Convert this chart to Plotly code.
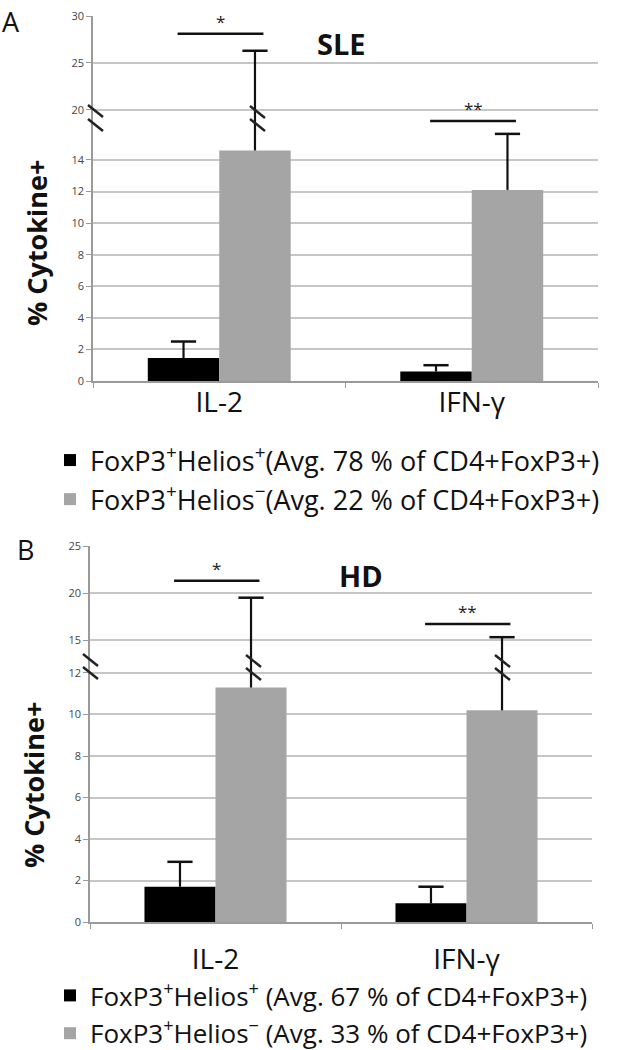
import plotly.graph_objects as go

# ---------------- data ----------------
categories = ["IL-2", "IFN-γ"]

# Panel A: SLE
sle_pos_mean = [1.45, 0.6]     # FoxP3+Helios+
sle_pos_sd = [1.05, 0.4]
sle_neg_mean = [14.6, 12.1]    # FoxP3+Helios-
sle_neg_sd = [11.7, 3.55]

# Panel B: HD
hd_pos_mean = [1.7, 0.9]
hd_pos_sd = [1.2, 0.8]
hd_neg_mean = [11.3, 10.2]
hd_neg_sd = [8.2, 5.1]

sle_ticks = [0, 2, 4, 6, 8, 10, 12, 14, 20, 25, 30]
hd_ticks = [0, 2, 4, 6, 8, 10, 12, 15, 20, 25]

sle_names = ["FoxP3<sup>+</sup>Helios<sup>+</sup>(Avg. 78 % of CD4+FoxP3+)",
             "FoxP3<sup>+</sup>Helios<sup>−</sup>(Avg. 22 % of CD4+FoxP3+)"]
hd_names = ["FoxP3<sup>+</sup>Helios<sup>+</sup> (Avg. 67 % of CD4+FoxP3+)",
            "FoxP3<sup>+</sup>Helios<sup>−</sup> (Avg. 33 % of CD4+FoxP3+)"]

# significance: (category index, value, label)
sle_sig = [(0, 28.1, "*"), (1, 17.6, "**")]
hd_sig = [(0, 21.3, "*"), (1, 16.7, "**")]

# ---------------- broken-axis mappings ----------------
def map_sle(v):
    if v <= 16:
        return v
    if v < 20:
        return 16 + (v - 16) * (1.165 / 4)
    return 17.165 + (v - 20) * 0.595


def map_hd(v):
    if v <= 12:
        return v
    if v < 15:
        return 12 + (v - 12) * (1.59 / 3)
    return 13.59 + (v - 15) * 0.453


W, H = 629, 1050
BLACK = "#000000"
GRAY = "#a5a5a5"
FONT = "Open Sans"
ERR = "#111111"


def px(x):
    return x / W


def py(y):
    return 1 - y / H


fig = go.Figure()


def add_bars(means, sds, mapper, name, color, xa, ya, legend, offset):
    y = [mapper(m) for m in means]
    tops = [mapper(m + s) for m, s in zip(means, sds)]
    err = [t - b for t, b in zip(tops, y)]
    fig.add_trace(go.Bar(
        x=categories, y=y, name=name, marker=dict(color=color, line=dict(width=0)),
        error_y=dict(type="data", symmetric=False, array=err, arrayminus=[0] * len(err),
                     color=ERR, thickness=2.2, width=0),
        xaxis=xa, yaxis=ya, legend=legend, legendgroup=name, offsetgroup=str(offset),
    ))
    # error bar caps (upper side only)
    fig.add_trace(go.Scatter(
        x=categories, y=tops, mode="markers", showlegend=False, hoverinfo="skip",
        marker=dict(symbol="line-ew", size=18, line=dict(color=ERR, width=2.5)),
        xaxis=xa, yaxis=ya, offsetgroup=str(offset), legendgroup=name,
    ))


add_bars(sle_pos_mean, sle_pos_sd, map_sle, sle_names[0], BLACK, "x", "y", "legend", 1)
add_bars(sle_neg_mean, sle_neg_sd, map_sle, sle_names[1], GRAY, "x", "y", "legend", 2)
add_bars(hd_pos_mean, hd_pos_sd, map_hd, hd_names[0], BLACK, "x2", "y2", "legend2", 1)
add_bars(hd_neg_mean, hd_neg_sd, map_hd, hd_names[1], GRAY, "x2", "y2", "legend2", 2)

axis_line = "#9a9a9a"
grid = "#c6c6c6"

yaxis_common = dict(
    showline=True, linecolor=axis_line, linewidth=1.5, ticks="outside", ticklen=5,
    tickcolor=axis_line, showgrid=True, gridcolor=grid, gridwidth=1.5, zeroline=False,
    tickfont=dict(size=11, color="#444444", family=FONT), fixedrange=True,
)
xaxis_common = dict(
    showline=True, linecolor=axis_line, linewidth=1.5, ticks="outside", ticklen=5,
    tickcolor=axis_line, tickson="boundaries", showgrid=False,
    tickfont=dict(size=28, color="#111111", family=FONT),
)

fig.update_layout(
    width=W, height=H, margin=dict(l=0, r=0, t=0, b=0, autoexpand=False),
    paper_bgcolor="white", plot_bgcolor="white",
    barmode="group", bargap=0.434, bargroupgap=0, scattermode="group",
    font=dict(family=FONT, color="#111111"),
    xaxis=dict(domain=[px(93), px(598)], anchor="y", ticklabelstandoff=-4, **xaxis_common),
    yaxis=dict(domain=[py(381), py(16)], anchor="x", range=[0, map_sle(30)],
               tickvals=[map_sle(t) for t in sle_ticks], ticktext=[str(t) for t in sle_ticks],
               **yaxis_common),
    xaxis2=dict(domain=[px(90), px(592)], anchor="y2", ticklabelstandoff=12, **xaxis_common),
    yaxis2=dict(domain=[py(922), py(546)], anchor="x2", range=[0, map_hd(25)],
                tickvals=[map_hd(t) for t in hd_ticks], ticktext=[str(t) for t in hd_ticks],
                **yaxis_common),
    legend=dict(x=px(50), y=py(436), xanchor="left", yanchor="top",
                font=dict(size=27, family=FONT, color="#111111"),
                traceorder="grouped", tracegroupgap=1, bgcolor="rgba(0,0,0,0)"),
    legend2=dict(x=px(50), y=py(1057), xanchor="left", yanchor="bottom",
                 font=dict(size=26, family=FONT, color="#111111"),
                 traceorder="grouped", tracegroupgap=1, bgcolor="rgba(0,0,0,0)"),
)

shapes = []
annotations = []

# significance brackets
for sig, mapper, xr, yr in [(sle_sig, map_sle, "x", "y"), (hd_sig, map_hd, "x2", "y2")]:
    for ci, val, lab in sig:
        yv = mapper(val)
        shapes.append(dict(type="line", xref=xr, yref=yr, x0=ci - 0.165, x1=ci + 0.175,
                           y0=yv, y1=yv, line=dict(color="#111111", width=2.5)))
        annotations.append(dict(xref=xr, yref=yr, x=ci + 0.005, y=yv, text=lab, showarrow=False,
                                xanchor="center", yanchor="bottom", yshift=-1,
                                font=dict(size=17, color="#222222")))

# break marks (axis and error bars)
break_marks = [
    (88, 105), (88, 119),          # A axis
    (250, 106), (250, 119),        # A IL-2 error bar
    (83, 654), (83, 667),          # B axis
    (246, 655), (246, 668),        # B IL-2 error bar
    (495, 655), (495, 668),        # B IFN error bar
]
for (x0, y0) in break_marks:
    shapes.append(dict(type="line", xref="paper", yref="paper",
                       x0=px(x0), y0=py(y0), x1=px(x0 + 15), y1=py(y0 + 12),
                       line=dict(color="#222222", width=2.5)))


def label(x, y, text, size, angle=0):
    return dict(xref="paper", yref="paper", x=px(x), y=py(y), text=text, showarrow=False,
                xanchor="center", yanchor="middle", textangle=angle,
                font=dict(size=size, color="#111111", family=FONT))


# panel letters, titles, y titles
annotations += [
    label(11, 21, "A", 27),
    label(25, 549, "B", 27),
    label(341, 44, "<b>SLE</b>", 29),
    label(361, 575, "<b>HD</b>", 29),
    label(36, 243, "<b>% Cytokine+</b>", 27, -90),
    label(33, 785, "<b>% Cytokine+</b>", 27, -90),
]

fig.update_layout(shapes=shapes, annotations=annotations)
fig.write_html("out.html", config={"displayModeBar": False},
               post_script="document.body.style.margin='0';document.body.style.padding='0';")
